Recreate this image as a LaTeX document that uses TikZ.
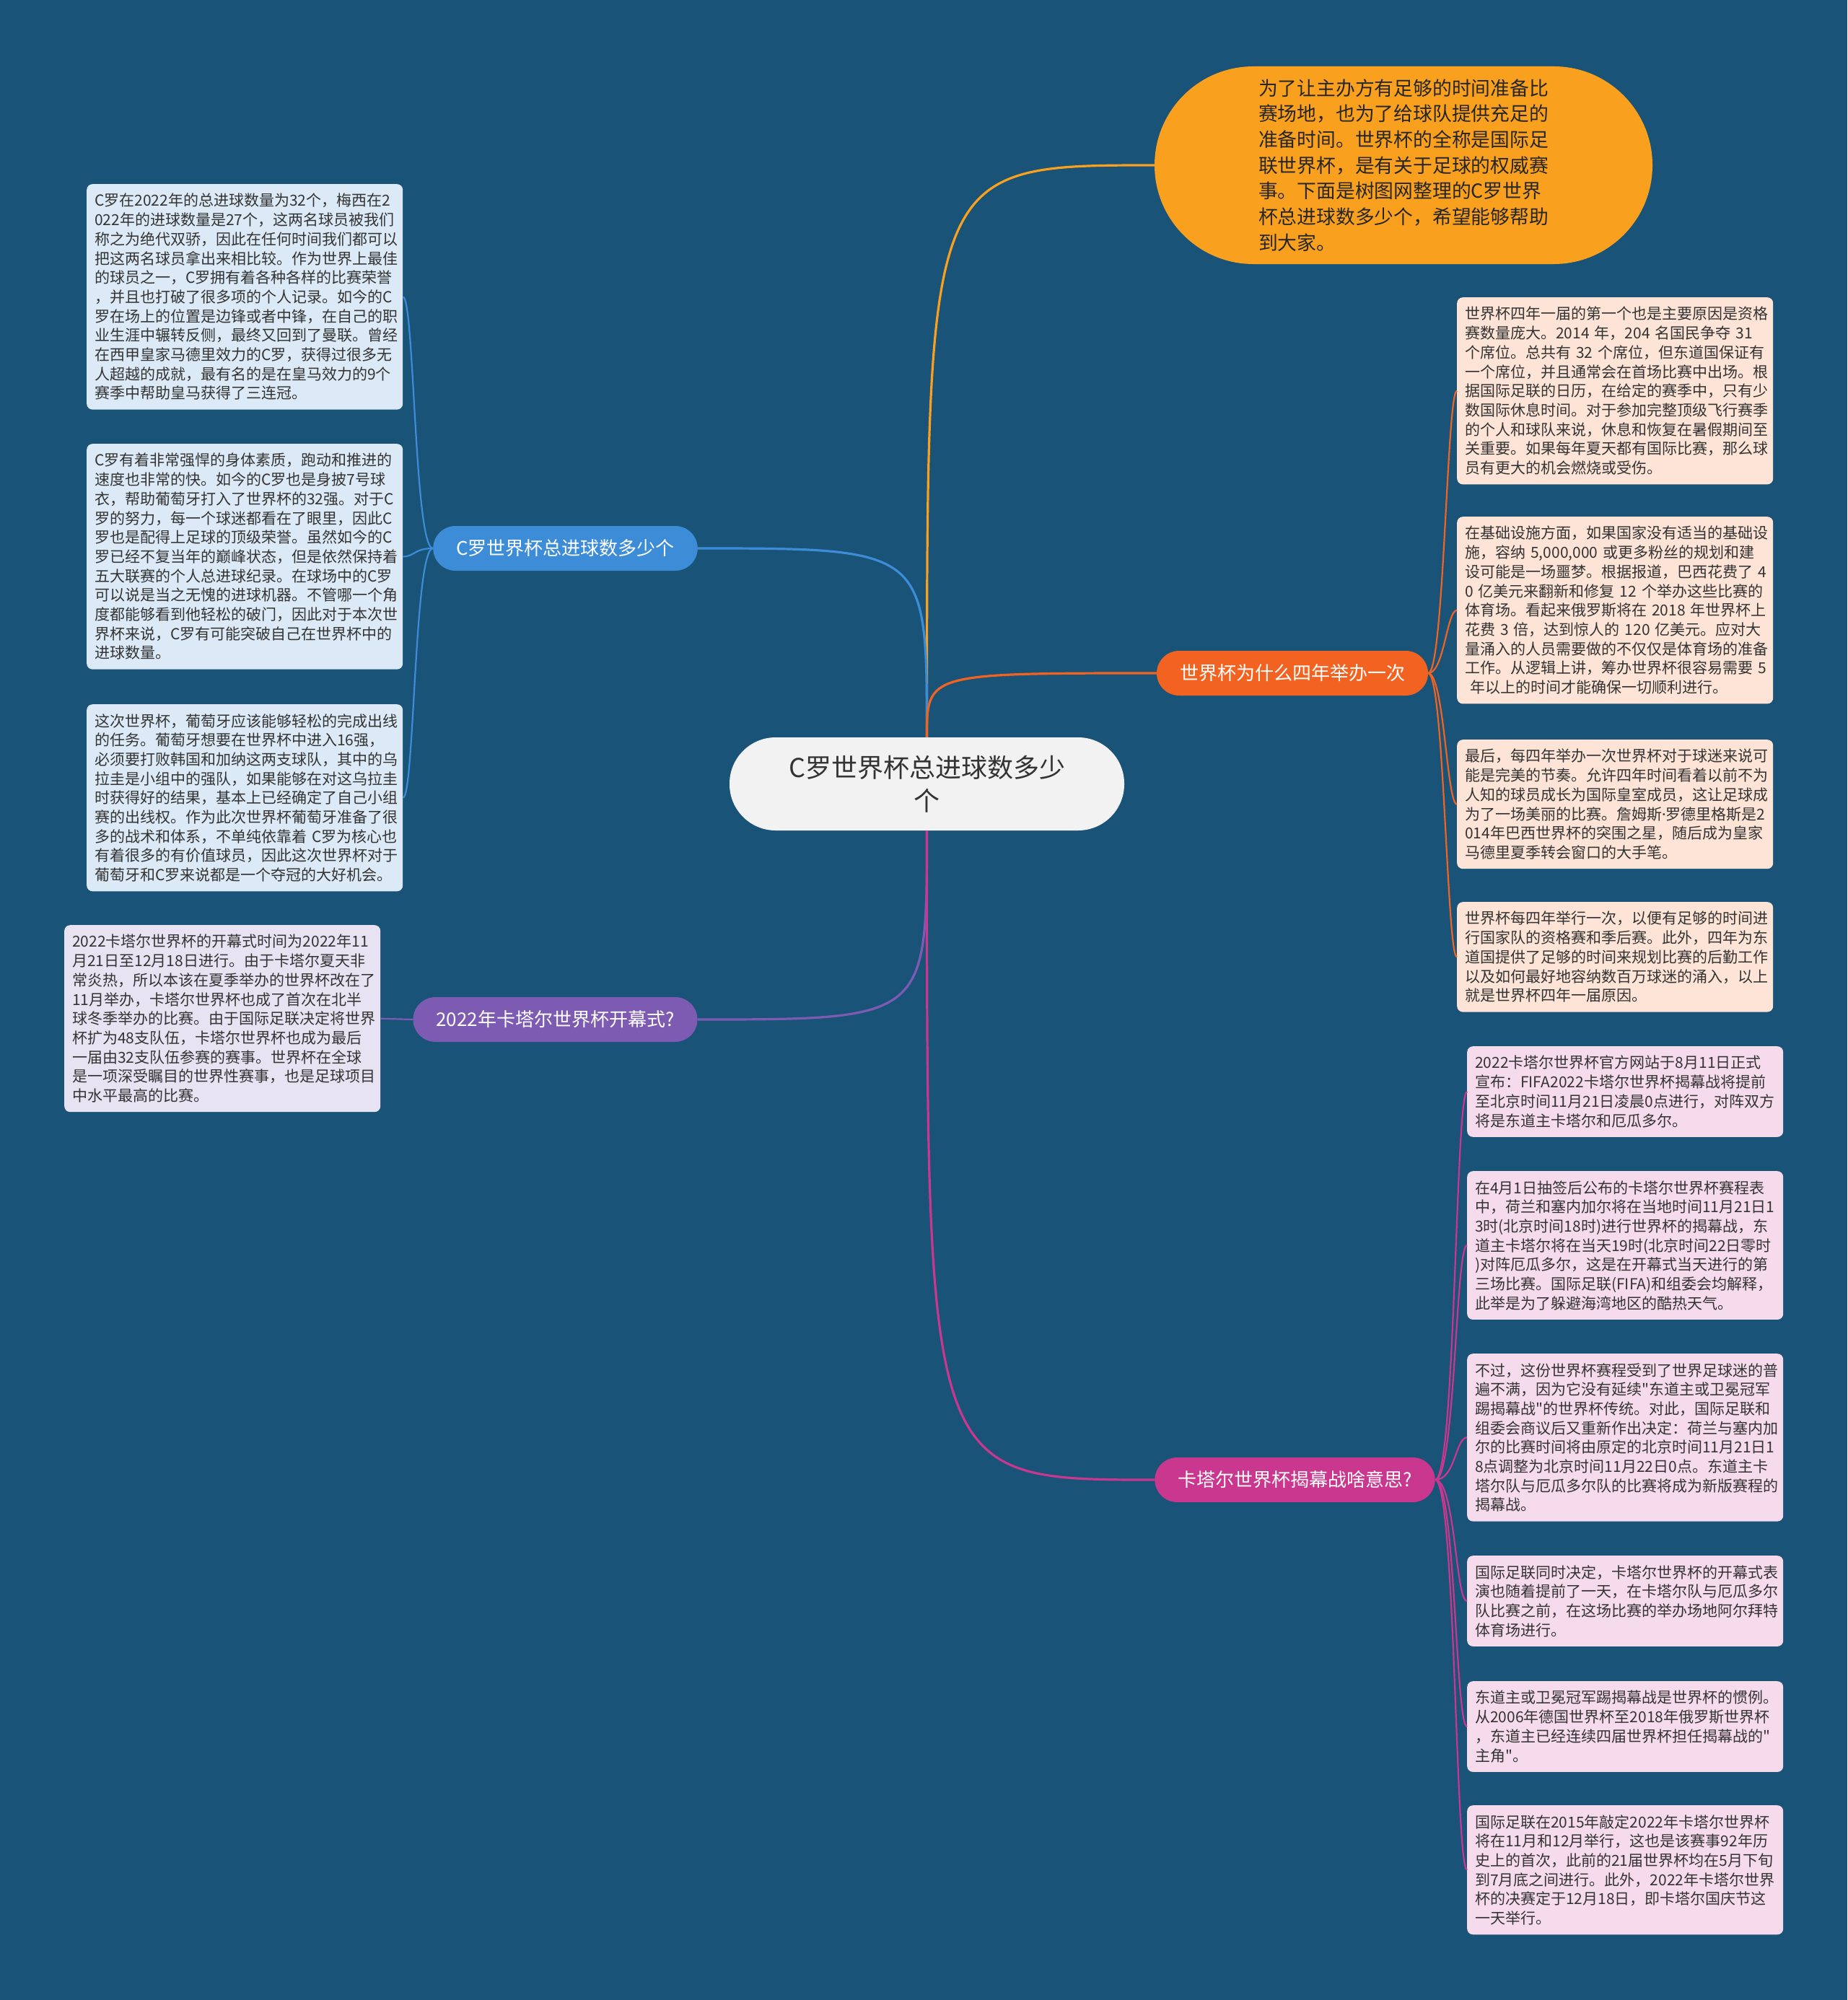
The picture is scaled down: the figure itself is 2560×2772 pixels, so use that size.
\documentclass[tikz,border=0pt]{standalone}
\usepackage{fontspec}
\setmainfont{Noto Sans CJK SC}[Ligatures=TeXOff]
\newfontfamily\latinfont{Noto Sans}
\usepackage{tikz}

\definecolor{bgblue}{HTML}{1A5378}
\definecolor{cblue}{HTML}{3C8CD8}
\definecolor{corange}{HTML}{F9A11E}
\definecolor{cred}{HTML}{F26322}
\definecolor{cpurple}{HTML}{7D5BB3}
\definecolor{cpink}{HTML}{C9378E}
\definecolor{fblue}{HTML}{DCEAF7}
\definecolor{fpeach}{HTML}{FDE4D6}
\definecolor{fpink}{HTML}{F6DBEC}
\definecolor{flila}{HTML}{E7E3F3}
\definecolor{froot}{HTML}{F2F2F2}

\begin{document}
\begin{tikzpicture}[x=1pt,y=-1pt,
  leaf/.style={anchor=north west,text width=416pt,inner xsep=11pt,inner ysep=13pt,
    align=left,rounded corners=8pt,text=black!80,font=\fontsize{21}{26.7}\selectfont},
  topic/.style={rounded corners=31pt,minimum height=62pt,inner xsep=32pt,inner ysep=0pt,
    text=white,font=\fontsize{26}{30}\selectfont},
  mainedge/.style={line width=3.2pt},
  subedge/.style={line width=2.2pt}]
\fill[bgblue] (0,0) rectangle (2560,2772);

\node[fill=froot,rounded corners=64pt,minimum width=547pt,minimum height=129pt,align=center,
  text=black!80,font=\fontsize{36}{46}\selectfont] (root) at (1284.5,1086.5) {C罗世界杯总进球数多少\\个};
\node[fill=corange,rounded corners=137pt,minimum width=690pt,minimum height=274pt,align=left,
  text=black!85,font=\fontsize{26.8}{35.7}\selectfont] (intro) at (1945,229) {为了让主办方有足够的时间准备比\\
赛场地，也为了给球队提供充足的\\
准备时间。世界杯的全称是国际足\\
联世界杯，是有关于足球的权威赛\\
事。下面是树图网整理的C罗世界\\
杯总进球数多少个，希望能够帮助\\
到大家。};

\node[topic,fill=cblue] (goals) at (783.5,760) {C罗世界杯总进球数多少个};
\node[topic,fill=cred] (why) at (1791,933) {世界杯为什么四年举办一次};
\node[topic,fill=cpurple] (open) at (769.5,1413) {2022年卡塔尔世界杯开幕式?};
\node[topic,fill=cpink] (match) at (1794.5,2051) {卡塔尔世界杯揭幕战啥意思?};

\node[leaf,fill=fblue] (g1) at (120,255) {C罗在2022年的总进球数量为32个，梅西在2\\
022年的进球数量是27个，这两名球员被我们\\
称之为绝代双骄，因此在任何时间我们都可以\\
把这两名球员拿出来相比较。作为世界上最佳\\
的球员之一，C罗拥有着各种各样的比赛荣誉\\
，并且也打破了很多项的个人记录。如今的C\\
罗在场上的位置是边锋或者中锋，在自己的职\\
业生涯中辗转反侧，最终又回到了曼联。曾经\\
在西甲皇家马德里效力的C罗，获得过很多无\\
人超越的成就，最有名的是在皇马效力的9个\\
赛季中帮助皇马获得了三连冠。};
\node[leaf,fill=fblue] (g2) at (120,615) {C罗有着非常强悍的身体素质，跑动和推进的\\
速度也非常的快。如今的C罗也是身披7号球\\
衣，帮助葡萄牙打入了世界杯的32强。对于C\\
罗的努力，每一个球迷都看在了眼里，因此C\\
罗也是配得上足球的顶级荣誉。虽然如今的C\\
罗已经不复当年的巅峰状态，但是依然保持着\\
五大联赛的个人总进球纪录。在球场中的C罗\\
可以说是当之无愧的进球机器。不管哪一个角\\
度都能够看到他轻松的破门，因此对于本次世\\
界杯来说，C罗有可能突破自己在世界杯中的\\
进球数量。};
\node[leaf,fill=fblue] (g3) at (120,976) {这次世界杯，葡萄牙应该能够轻松的完成出线\\
的任务。葡萄牙想要在世界杯中进入16强，\\
必须要打败韩国和加纳这两支球队，其中的乌\\
拉圭是小组中的强队，如果能够在对这乌拉圭\\
时获得好的结果，基本上已经确定了自己小组\\
赛的出线权。作为此次世界杯葡萄牙准备了很\\
多的战术和体系，不单纯依靠着~C罗为核心也\\
有着很多的有价值球员，因此这次世界杯对于\\
葡萄牙和C罗来说都是一个夺冠的大好机会。};

\node[leaf,fill=flila] (o1) at (89,1282) {2022卡塔尔世界杯的开幕式时间为2022年11\\
月21日至12月18日进行。由于卡塔尔夏天非\\
常炎热，所以本该在夏季举办的世界杯改在了\\
11月举办，卡塔尔世界杯也成了首次在北半\\
球冬季举办的比赛。由于国际足联决定将世界\\
杯扩为48支队伍，卡塔尔世界杯也成为最后\\
一届由32支队伍参赛的赛事。世界杯在全球\\
是一项深受瞩目的世界性赛事，也是足球项目\\
中水平最高的比赛。};

\node[leaf,fill=fpeach] (w1) at (2019,412) {世界杯四年一届的第一个也是主要原因是资格\\
赛数量庞大。2014~年，204~名国民争夺~31\\
个席位。总共有~32~个席位，但东道国保证有\\
一个席位，并且通常会在首场比赛中出场。根\\
据国际足联的日历，在给定的赛季中，只有少\\
数国际休息时间。对于参加完整顶级飞行赛季\\
的个人和球队来说，休息和恢复在暑假期间至\\
关重要。如果每年夏天都有国际比赛，那么球\\
员有更大的机会燃烧或受伤。};
\node[leaf,fill=fpeach] (w2) at (2019,716) {在基础设施方面，如果国家没有适当的基础设\\
施，容纳~5,000,000~或更多粉丝的规划和建\\
设可能是一场噩梦。根据报道，巴西花费了~4\\
0~亿美元来翻新和修复~12~个举办这些比赛的\\
体育场。看起来俄罗斯将在~2018~年世界杯上\\
花费~3~倍，达到惊人的~120~亿美元。应对大\\
量涌入的人员需要做的不仅仅是体育场的准备\\
工作。从逻辑上讲，筹办世界杯很容易需要~5\\
~年以上的时间才能确保一切顺利进行。};
\node[leaf,fill=fpeach] (w3) at (2019,1025) {最后，每四年举办一次世界杯对于球迷来说可\\
能是完美的节奏。允许四年时间看着以前不为\\
人知的球员成长为国际皇室成员，这让足球成\\
为了一场美丽的比赛。詹姆斯{\latinfont ·}罗德里格斯是2\\
014年巴西世界杯的突围之星，随后成为皇家\\
马德里夏季转会窗口的大手笔。};
\node[leaf,fill=fpeach] (w4) at (2019,1250) {世界杯每四年举行一次，以便有足够的时间进\\
行国家队的资格赛和季后赛。此外，四年为东\\
道国提供了足够的时间来规划比赛的后勤工作\\
以及如何最好地容纳数百万球迷的涌入，以上\\
就是世界杯四年一届原因。};

\node[leaf,fill=fpink] (m1) at (2033,1450) {2022卡塔尔世界杯官方网站于8月11日正式\\
宣布：FIFA2022卡塔尔世界杯揭幕战将提前\\
至北京时间11月21日凌晨0点进行，对阵双方\\
将是东道主卡塔尔和厄瓜多尔。};
\node[leaf,fill=fpink] (m2) at (2033,1623) {在4月1日抽签后公布的卡塔尔世界杯赛程表\\
中，荷兰和塞内加尔将在当地时间11月21日1\\
3时(北京时间18时)进行世界杯的揭幕战，东\\
道主卡塔尔将在当天19时(北京时间22日零时\\
)对阵厄瓜多尔，这是在开幕式当天进行的第\\
三场比赛。国际足联(FIFA)和组委会均解释，\\
此举是为了躲避海湾地区的酷热天气。};
\node[leaf,fill=fpink] (m3) at (2033,1876) {不过，这份世界杯赛程受到了世界足球迷的普\\
遍不满，因为它没有延续"东道主或卫冕冠军\\
踢揭幕战"的世界杯传统。对此，国际足联和\\
组委会商议后又重新作出决定：荷兰与塞内加\\
尔的比赛时间将由原定的北京时间11月21日1\\
8点调整为北京时间11月22日0点。东道主卡\\
塔尔队与厄瓜多尔队的比赛将成为新版赛程的\\
揭幕战。};
\node[leaf,fill=fpink] (m4) at (2033,2156) {国际足联同时决定，卡塔尔世界杯的开幕式表\\
演也随着提前了一天，在卡塔尔队与厄瓜多尔\\
队比赛之前，在这场比赛的举办场地阿尔拜特\\
体育场进行。};
\node[leaf,fill=fpink] (m5) at (2033,2330) {东道主或卫冕冠军踢揭幕战是世界杯的惯例。\\
从2006年德国世界杯至2018年俄罗斯世界杯\\
，东道主已经连续四届世界杯担任揭幕战的"\\
主角"。};
\node[leaf,fill=fpink] (m6) at (2033,2502) {国际足联在2015年敲定2022年卡塔尔世界杯\\
将在11月和12月举行，这也是该赛事92年历\\
史上的首次，此前的21届世界杯均在5月下旬\\
到7月底之间进行。此外，2022年卡塔尔世界\\
杯的决赛定于12月18日，即卡塔尔国庆节这\\
一天举行。};

\draw[mainedge,corange] (root.north) .. controls (root.north |- intro.west) .. (intro.west);
\draw[mainedge,cblue] (root.north) .. controls (root.north |- goals.east) .. (goals.east);
\draw[mainedge,cred] (root.north) .. controls (root.north |- why.west) .. (why.west);
\draw[mainedge,cpurple] (root.south) .. controls (root.south |- open.east) .. (open.east);
\draw[mainedge,cpink] (root.south) .. controls (root.south |- match.west) .. (match.west);

\foreach \n in {g1,g2,g3}
  \draw[subedge,cblue] (goals.west) .. controls +(-26,0) and +(16,0) .. (\n.east);
\draw[subedge,cpurple] (open.west) -- (o1.east);
\foreach \n in {w1,w2,w3,w4}
  \draw[subedge,cred] (why.east) .. controls +(22,0) and +(-14,0) .. (\n.west);
\foreach \n in {m1,m2,m3,m4,m5,m6}
  \draw[subedge,cpink] (match.east) .. controls +(28,0) and +(-16,0) .. (\n.west);
\end{tikzpicture}
\end{document}
